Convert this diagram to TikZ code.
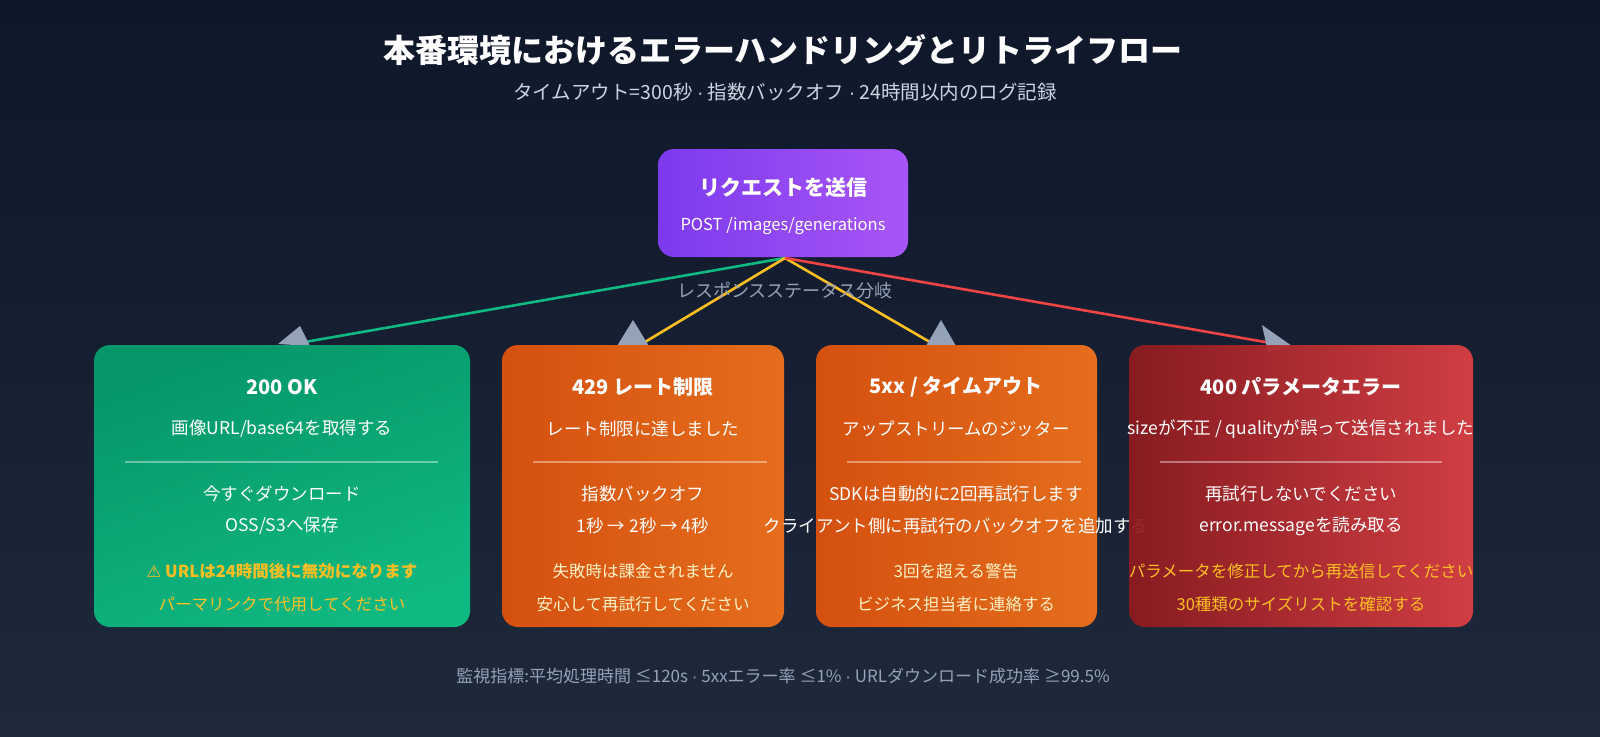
\documentclass[tikz,border=0pt]{standalone}
\usepackage{fontspec}
\setmainfont{Noto Sans CJK JP}
\newfontfamily\symfont{DejaVu Sans}
\newcommand{\mdot}{{\fontspec{Liberation Sans}·}}
\usetikzlibrary{shapes,arrows}
\definecolor{bgtop}{HTML}{0F172A}
\definecolor{bgbot}{HTML}{1E293B}
\definecolor{subgray}{HTML}{CBD5E1}
\definecolor{lblgray}{HTML}{94A3B8}
\definecolor{warnyel}{HTML}{FBBF24}
\definecolor{cream}{HTML}{FEF3C7}
\definecolor{purpA}{HTML}{7C3AED}
\definecolor{purpB}{HTML}{A855F7}
\definecolor{greenA}{HTML}{059669}
\definecolor{greenB}{HTML}{10B981}
\definecolor{orangeA}{HTML}{D4500F}
\definecolor{orangeB}{HTML}{E56D1C}
\definecolor{redA}{HTML}{8E1B1F}
\definecolor{redB}{HTML}{DC4044}
\definecolor{linegreen}{HTML}{10B981}
\definecolor{lineyel}{HTML}{FBBF24}
\definecolor{linered}{HTML}{EF4444}
\tikzset{
txt/.style = {text=white, inner sep=0pt, anchor=center},
ttl/.style = {txt, font=\fontsize{20}{24}\selectfont\bfseries},
body/.style = {txt, font=\fontsize{17.5}{21}\selectfont},
note/.style = {txt, font=\fontsize{16.5}{20}\selectfont},
card/.style = {rounded corners=16pt},
sep/.style = {draw=white, opacity=0.4, line width=1.2pt},
flow/.style = {line width=2.6pt},
tip/.style = {fill=lblgray, draw=none}
}
\begin{document}
\begin{tikzpicture}[x=1pt, y=-1pt]
    % background
    \shade[top color=bgtop, bottom color=bgbot] (0,0) rectangle (1600,736);
    \useasboundingbox (0,0) rectangle (1600,736);

    % title
    \node [txt, font=\fontsize{32}{38}\selectfont\bfseries] (title) at (783,50) {本番環境におけるエラーハンドリングとリトライフロー};
    \node [txt, text=subgray, font=\fontsize{19.5}{23}\selectfont] (subtitle) at (785,92) {タイムアウト=300秒 \mdot{} 指数バックオフ \mdot{} 24時間以内のログ記録};

    % request box
    \shade [card, left color=purpA, right color=purpB] (658,149) rectangle (908,257);
    \node [ttl, font=\fontsize{21}{25}\selectfont\bfseries] (req) at (783,187) {リクエストを送信};
    \node [note] (reqsub) at (783,226) {POST /images/generations};
    \coordinate (fork) at (785,258);

    % branches
    \coordinate (ok) at (305,342);
    \coordinate (rate) at (640,345);
    \coordinate (srv) at (935,345);
    \coordinate (bad) at (1288,346);
    \draw [flow, linegreen] (fork) -- (ok);
    \draw [flow, lineyel] (fork) -- (rate);
    \draw [flow, lineyel] (fork) -- (srv);
    \draw [flow, linered] (fork) -- (bad);
    \node [txt, text=lblgray, font=\fontsize{18}{21}\selectfont] (branch) at (785,291) {レスポンスステータス分岐};

    % arrow heads
    \fill [tip] (278,344) -- (300,326) -- (310,346) -- cycle;
    \fill [tip] (633,320) -- (617,346) -- (649,346) -- cycle;
    \fill [tip] (941,320) -- (926,346) -- (956,346) -- cycle;
    \fill [tip] (1262,325) -- (1292,346) -- (1268,352) -- cycle;

    % card 200
    \shade [card, top color=greenA, bottom color=greenB, shading angle=20] (94,345) rectangle (470,627);
    \node [ttl] (okT) at (282,387) {200 OK};
    \node [body] (okA) at (282,429) {画像URL/base64を取得する};
    \draw [sep] (125,462) -- (438,462);
    \node [body] (okB) at (282,494) {今すぐダウンロード};
    \node [body] (okC) at (282,526) {OSS/S3へ保存};
    \node [note, text=warnyel, font=\fontsize{16.5}{20}\selectfont\bfseries] (okD) at (282,571) {{\symfont ⚠} URLは24時間後に無効になります};
    \node [note, text=warnyel] (okE) at (282,604) {パーマリンクで代用してください};

    % card 429
    \shade [card, left color=orangeA, right color=orangeB] (502,345) rectangle (784,627);
    \node [ttl] (rateT) at (643,387) {429 レート制限};
    \node [body] (rateA) at (643,429) {レート制限に達しました};
    \draw [sep] (533,462) -- (767,462);
    \node [body] (rateB) at (643,494) {指数バックオフ};
    \node [body] (rateC) at (643,526) {1秒 → 2秒 → 4秒};
    \node [note, text=cream] (rateD) at (643,571) {失敗時は課金されません};
    \node [note, text=cream] (rateE) at (643,604) {安心して再試行してください};

    % card 5xx
    \shade [card, left color=orangeA, right color=orangeB] (816,345) rectangle (1097,627);
    \node [ttl] (srvT) at (956,387) {5xx / タイムアウト};
    \node [body] (srvA) at (956,429) {アップストリームのジッター};
    \draw [sep] (847,462) -- (1081,462);
    \node [body] (srvB) at (956,494) {SDKは自動的に2回再試行します};
    \node [body] (srvC) at (956,526) {クライアント側に再試行のバックオフを追加する};
    \node [note, text=cream] (srvD) at (956,571) {3回を超える警告};
    \node [note, text=cream] (srvE) at (956,604) {ビジネス担当者に連絡する};

    % card 400
    \shade [card, left color=redA, right color=redB, opacity=0.94] (1129,345) rectangle (1473,627);
    \node [ttl] (badT) at (1301,387) {400 パラメータエラー};
    \node [body] (badA) at (1301,429) {sizeが不正 / qualityが誤って送信されました};
    \draw [sep] (1160,462) -- (1442,462);
    \node [body] (badB) at (1301,494) {再試行しないでください};
    \node [body] (badC) at (1301,526) {error.messageを読み取る};
    \node [note, text=warnyel] (badD) at (1301,571) {パラメータを修正してから再送信してください};
    \node [note, text=warnyel] (badE) at (1301,604) {30種類のサイズリストを確認する};

    % footer
    \node [txt, text=lblgray, font=\fontsize{17}{20}\selectfont] (foot) at (783,676) {監視指標:平均処理時間 ≤120s \mdot{} 5xxエラー率 ≤1\% \mdot{} URLダウンロード成功率 ≥99.5\%};
\end{tikzpicture}
\end{document}
